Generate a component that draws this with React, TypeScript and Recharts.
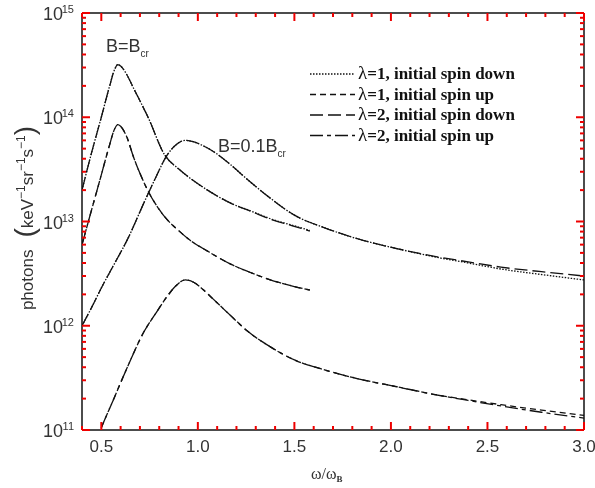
import { Line, LineChart, XAxis, YAxis } from 'recharts';

// frequency grid of the B = Bcr curves
const xBcr = [0.4, 0.45, 0.5, 0.54, 0.57, 0.585, 0.6, 0.63, 0.67, 0.7, 0.74, 0.83, 0.9, 0.96, 1.05, 1.17, 1.28, 1.39, 1.49, 1.58];
const bcrL1Down = [2.0e13, 4.6e13, 1.0e14, 1.9e14, 2.9e14, 3.2e14, 3.1e14, 2.6e14, 1.85e14, 1.44e14, 1.02e14, 4.3e13, 3.2e13, 2.6e13, 2.0e13, 1.5e13, 1.25e13, 1.04e13, 9.2e12, 8.2e12];
const bcrL2Down = [2.0e13, 4.6e13, 1.0e14, 1.9e14, 2.9e14, 3.2e14, 3.1e14, 2.6e14, 1.85e14, 1.44e14, 1.02e14, 4.3e13, 3.2e13, 2.6e13, 2.0e13, 1.5e13, 1.24e13, 1.03e13, 9.1e12, 8.1e12];
const bcrL1Up = [6.0e12, 1.3e13, 2.8e13, 5.2e13, 7.8e13, 8.5e13, 8.2e13, 6.6e13, 4.0e13, 2.9e13, 2.0e13, 1.1e13, 8.2e12, 6.6e12, 5.2e12, 3.9e12, 3.2e12, 2.7e12, 2.4e12, 2.2e12];
const bcrL2Up = [6.0e12, 1.3e13, 2.8e13, 5.2e13, 7.8e13, 8.5e13, 8.2e13, 6.6e13, 4.0e13, 2.9e13, 2.0e13, 1.1e13, 8.2e12, 6.6e12, 5.2e12, 3.9e12, 3.2e12, 2.7e12, 2.4e12, 2.2e12];

// frequency grid of the B = 0.1 Bcr curves
const xB01 = [0.4, 0.45, 0.5, 0.56, 0.64, 0.72, 0.78, 0.84, 0.88, 0.935, 0.98, 1.03, 1.08, 1.17, 1.26, 1.38, 1.5, 1.65, 1.83, 2.03, 2.22, 2.4, 2.57, 2.78, 3.0];
const b01L1Down = [1.0e12, 1.5e12, 2.3e12, 3.7e12, 7.0e12, 1.5e13, 2.6e13, 4.3e13, 5.3e13, 6.0e13, 5.8e13, 5.3e13, 4.7e13, 3.5e13, 2.5e13, 1.65e13, 1.15e13, 8.8e12, 6.8e12, 5.5e12, 4.6e12, 4.0e12, 3.5e12, 3.1e12, 2.75e12];
const b01L2Down = [1.0e12, 1.5e12, 2.3e12, 3.7e12, 7.0e12, 1.5e13, 2.6e13, 4.3e13, 5.3e13, 6.0e13, 5.8e13, 5.3e13, 4.7e13, 3.5e13, 2.5e13, 1.65e13, 1.15e13, 8.8e12, 6.8e12, 5.5e12, 4.65e12, 4.1e12, 3.65e12, 3.3e12, 3.0e12];
const b01L1Up = [3.8e10, 6.0e10, 1.05e11, 1.9e11, 4.2e11, 8.7e11, 1.3e12, 1.9e12, 2.35e12, 2.75e12, 2.6e12, 2.2e12, 1.8e12, 1.25e12, 8.8e11, 6.2e11, 4.7e11, 3.8e11, 3.1e11, 2.6e11, 2.2e11, 1.95e11, 1.75e11, 1.55e11, 1.38e11];
const b01L2Up = [3.8e10, 6.0e10, 1.05e11, 1.9e11, 4.2e11, 8.7e11, 1.3e12, 1.9e12, 2.35e12, 2.75e12, 2.6e12, 2.2e12, 1.8e12, 1.25e12, 8.8e11, 6.2e11, 4.7e11, 3.8e11, 3.1e11, 2.6e11, 2.2e11, 1.92e11, 1.7e11, 1.48e11, 1.3e11];

const xTicks = [0.4, 0.5, 0.6, 0.7, 0.8, 0.9, 1.0, 1.1, 1.2, 1.3, 1.4, 1.5, 1.6, 1.7, 1.8, 1.9, 2.0, 2.1, 2.2, 2.3, 2.4, 2.5, 2.6, 2.7, 2.8, 2.9, 3.0];
const yDecades = [11, 12, 13, 14, 15];

const legendLabels = ['=1, initial spin down', '=1, initial spin up', '=2, initial spin down', '=2, initial spin up'];

const INK = '#111';
const TICK = '#e00';
const TEXT = '#333';
const SANS = '"Liberation Sans", Arial, sans-serif';
const SERIF = '"Liberation Serif", "Times New Roman", serif';

const DASH = {
  dotted: '1.5 1.5',
  short: '6 4',
  long: '13 5',
  dashDot: '13 4 4 4',
};
const legendDash = [DASH.dotted, DASH.short, DASH.long, DASH.dashDot];

const zip = (xs: number[], ys: number[]) => xs.map((x, i) => ({ x, y: ys[i] }));

const yTicks: number[] = [];
yDecades.forEach((d, i) => {
  const base = Math.pow(10, d);
  yTicks.push(base);
  if (i < yDecades.length - 1) for (let k = 2; k <= 9; k++) yTicks.push(k * base);
});

const isMajorX = (v: number) => Math.abs(v * 2 - Math.round(v * 2)) < 1e-6;
const isMajorY = (v: number) => Math.abs(Math.log10(v) - Math.round(Math.log10(v))) < 1e-6;

function BottomTick(props: any) {
  const { x, y, payload } = props;
  const v = payload.value as number;
  const major = isMajorX(v);
  return (
    <g>
      <line x1={x} x2={x} y1={y} y2={y - (major ? 8 : 4)} stroke={TICK} strokeWidth={2} />
      {major && (
        <text x={x} y={y + 22} textAnchor="middle" fontSize={17} fontFamily={SANS} fill={TEXT}>
          {v.toFixed(1)}
        </text>
      )}
    </g>
  );
}

function TopTick(props: any) {
  const { x, y, payload } = props;
  return <line x1={x} x2={x} y1={y} y2={y + (isMajorX(payload.value) ? 8 : 4)} stroke={TICK} strokeWidth={2} />;
}

function LeftTick(props: any) {
  const { x, y, payload } = props;
  const v = payload.value as number;
  const major = isMajorY(v);
  return (
    <g>
      <line x1={x} x2={x + (major ? 8 : 4)} y1={y} y2={y} stroke={TICK} strokeWidth={2} />
      {major && (
        <text x={x - 19} y={y + 7} textAnchor="end" fontSize={18} fontFamily={SANS} fill={TEXT}>
          10
          <tspan x={x - 8} dy={-7} fontSize={11} textAnchor="end">
            {Math.round(Math.log10(v))}
          </tspan>
        </text>
      )}
    </g>
  );
}

function RightTick(props: any) {
  const { x, y, payload } = props;
  return <line x1={x} x2={x - (isMajorY(payload.value) ? 8 : 4)} y1={y} y2={y} stroke={TICK} strokeWidth={2} />;
}

function Annotations() {
  return (
    <svg width={595} height={488} style={{ position: 'absolute', left: 0, top: 0 }}>
      <text x={106} y={52} fontSize={18} fontFamily={SANS} fill={TEXT}>
        B=B<tspan fontSize={10} dy={5}>cr</tspan>
      </text>
      <text x={218} y={152} fontSize={18} fontFamily={SANS} fill={TEXT}>
        B=0.1B<tspan fontSize={10} dy={5}>cr</tspan>
      </text>

      <text
        transform="translate(33,218) rotate(-90)"
        textAnchor="middle"
        fontSize={17}
        fontFamily={SANS}
        fill={TEXT}
      >
        photons
        <tspan dx={12} fontSize={28} dy={1}>(</tspan>
        <tspan dy={-1}>keV</tspan>
        <tspan fontSize={12} dy={-8}>−1</tspan>
        <tspan dy={8}>sr</tspan>
        <tspan fontSize={12} dy={-8}>−1</tspan>
        <tspan dy={8}>s</tspan>
        <tspan fontSize={12} dy={-8}>−1</tspan>
        <tspan fontSize={28} dy={9}>)</tspan>
      </text>

      <text x={311} y={479} fontSize={16} fontFamily={SERIF} fill={TEXT}>
        ω/ω<tspan fontSize={9} dy={3} fontWeight="bold">B</tspan>
      </text>

      {legendLabels.map((label, i) => {
        const base = 79 + i * 20.5;
        return (
          <g key={label}>
            <line x1={310} x2={355} y1={base - 5} y2={base - 5} stroke={INK} strokeWidth={1.3} strokeDasharray={legendDash[i]} />
            <text x={358} y={base} fontSize={17} fontFamily={SERIF} fill={INK}>
              <tspan fontSize={19}>λ</tspan>
              <tspan fontWeight="bold">{label}</tspan>
            </text>
          </g>
        );
      })}
    </svg>
  );
}

const series = [
  { key: 'bcr-l1-down', data: zip(xBcr, bcrL1Down), dash: DASH.dotted },
  { key: 'bcr-l2-down', data: zip(xBcr, bcrL2Down), dash: DASH.long },
  { key: 'bcr-l1-up', data: zip(xBcr, bcrL1Up), dash: DASH.short },
  { key: 'bcr-l2-up', data: zip(xBcr, bcrL2Up), dash: DASH.dashDot },
  { key: 'b01-l1-down', data: zip(xB01, b01L1Down), dash: DASH.dotted },
  { key: 'b01-l2-down', data: zip(xB01, b01L2Down), dash: DASH.long },
  { key: 'b01-l1-up', data: zip(xB01, b01L1Up), dash: DASH.short },
  { key: 'b01-l2-up', data: zip(xB01, b01L2Up), dash: DASH.dashDot },
];

export default function App() {
  const axisCommon = {
    allowDataOverflow: true,
    interval: 0 as const,
    tickSize: 0,
    tickMargin: 0,
    tickLine: false,
    stroke: INK,
    strokeWidth: 1.5,
  };

  return (
    <div style={{ position: 'fixed', left: 0, top: 0, width: 595, height: 488 }}>
      <Annotations />
      <div style={{ position: 'absolute', left: 0, top: 0 }}>
        <LineChart width={595} height={488} margin={{ top: 12, right: 10, bottom: 0, left: 0 }}>
          <XAxis {...axisCommon} dataKey="x" type="number" domain={[0.4, 3.0]} ticks={xTicks} height={58} tick={BottomTick} />
          <XAxis
            {...axisCommon}
            xAxisId="top"
            orientation="top"
            dataKey="x"
            type="number"
            domain={[0.4, 3.0]}
            ticks={xTicks}
            height={1}
            tick={TopTick}
          />
          <YAxis {...axisCommon} scale="log" type="number" domain={[1e11, 1e15]} ticks={yTicks} width={82} tick={LeftTick} />
          <YAxis
            {...axisCommon}
            yAxisId="right"
            orientation="right"
            scale="log"
            type="number"
            domain={[1e11, 1e15]}
            ticks={yTicks}
            width={1}
            tick={RightTick}
          />
          {series.map((s) => (
            <Line
              key={s.key}
              data={s.data}
              dataKey="y"
              type="monotone"
              stroke={INK}
              strokeWidth={1.3}
              strokeDasharray={s.dash}
              dot={false}
              activeDot={false}
              isAnimationActive={false}
            />
          ))}
        </LineChart>
      </div>
    </div>
  );
}
